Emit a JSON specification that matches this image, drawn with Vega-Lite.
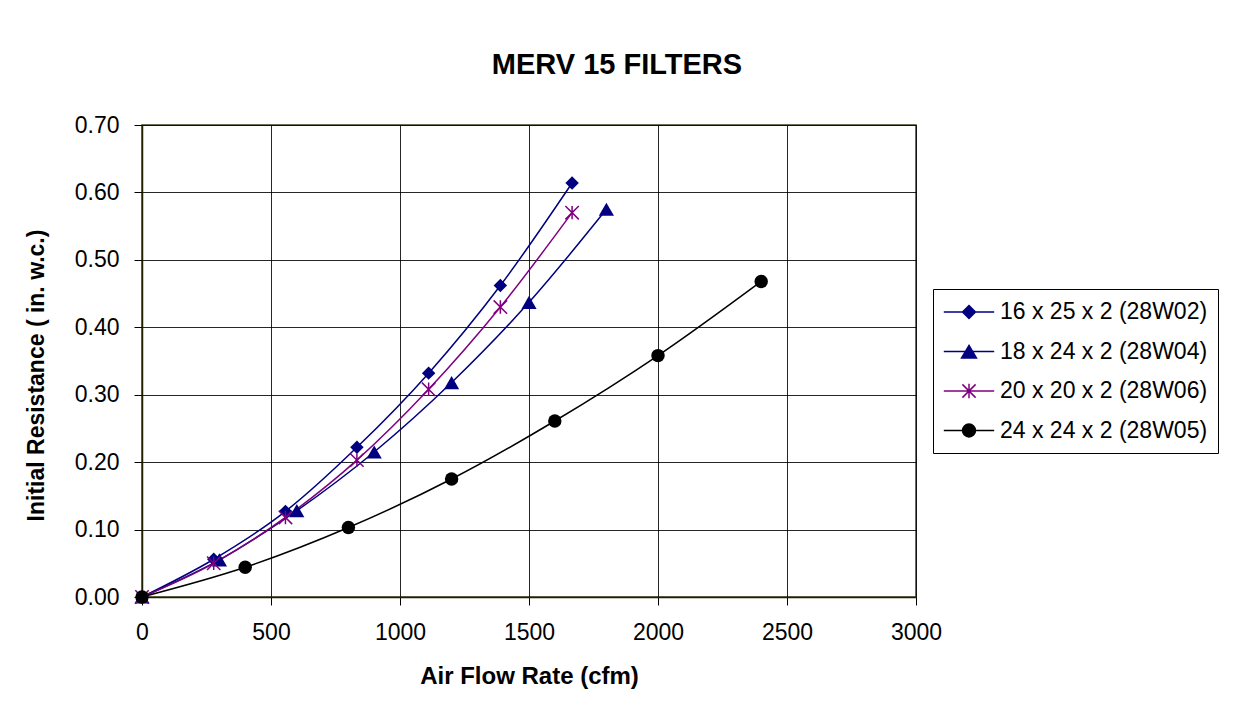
{
  "$schema": "https://vega.github.io/schema/vega-lite/v6.json",
  "width": 774,
  "height": 472,
  "autosize": {"type": "none"},
  "padding": {"left": 142, "top": 125, "right": 319, "bottom": 124},
  "background": "white",
  "title": {
    "text": "MERV 15 FILTERS",
    "fontSize": 29,
    "font": "Liberation Sans",
    "fontWeight": "bold",
    "color": "black",
    "anchor": "middle",
    "dx": 88,
    "baseline": "alphabetic",
    "offset": 11
  },
  "data": {
    "values": [
      {"series": "16 x 25 x 2 (28W02)", "cfm": 0, "resistance": 0.0},
      {"series": "16 x 25 x 2 (28W02)", "cfm": 278, "resistance": 0.056},
      {"series": "16 x 25 x 2 (28W02)", "cfm": 556, "resistance": 0.127},
      {"series": "16 x 25 x 2 (28W02)", "cfm": 833, "resistance": 0.222},
      {"series": "16 x 25 x 2 (28W02)", "cfm": 1111, "resistance": 0.332},
      {"series": "16 x 25 x 2 (28W02)", "cfm": 1389, "resistance": 0.462},
      {"series": "16 x 25 x 2 (28W02)", "cfm": 1667, "resistance": 0.614},
      {"series": "18 x 24 x 2 (28W04)", "cfm": 0, "resistance": 0.0},
      {"series": "18 x 24 x 2 (28W04)", "cfm": 300, "resistance": 0.055},
      {"series": "18 x 24 x 2 (28W04)", "cfm": 600, "resistance": 0.128},
      {"series": "18 x 24 x 2 (28W04)", "cfm": 900, "resistance": 0.215},
      {"series": "18 x 24 x 2 (28W04)", "cfm": 1200, "resistance": 0.318},
      {"series": "18 x 24 x 2 (28W04)", "cfm": 1500, "resistance": 0.437},
      {"series": "18 x 24 x 2 (28W04)", "cfm": 1800, "resistance": 0.575},
      {"series": "20 x 20 x 2 (28W06)", "cfm": 0, "resistance": 0.0},
      {"series": "20 x 20 x 2 (28W06)", "cfm": 278, "resistance": 0.05},
      {"series": "20 x 20 x 2 (28W06)", "cfm": 556, "resistance": 0.118},
      {"series": "20 x 20 x 2 (28W06)", "cfm": 833, "resistance": 0.203},
      {"series": "20 x 20 x 2 (28W06)", "cfm": 1111, "resistance": 0.308},
      {"series": "20 x 20 x 2 (28W06)", "cfm": 1389, "resistance": 0.43},
      {"series": "20 x 20 x 2 (28W06)", "cfm": 1667, "resistance": 0.57},
      {"series": "24 x 24 x 2 (28W05)", "cfm": 0, "resistance": 0.0},
      {"series": "24 x 24 x 2 (28W05)", "cfm": 400, "resistance": 0.044},
      {"series": "24 x 24 x 2 (28W05)", "cfm": 800, "resistance": 0.103},
      {"series": "24 x 24 x 2 (28W05)", "cfm": 1200, "resistance": 0.175},
      {"series": "24 x 24 x 2 (28W05)", "cfm": 1600, "resistance": 0.261},
      {"series": "24 x 24 x 2 (28W05)", "cfm": 2000, "resistance": 0.358},
      {"series": "24 x 24 x 2 (28W05)", "cfm": 2400, "resistance": 0.468}
    ]
  },
  "encoding": {
    "x": {
      "field": "cfm",
      "type": "quantitative",
      "scale": {"domain": [0, 3000], "nice": false, "zero": true},
      "axis": {
        "title": "Air Flow Rate (cfm)",
        "values": [0, 500, 1000, 1500, 2000, 2500, 3000],
        "format": "d",
        "titleFontSize": 24,
        "titlePadding": 20,
        "labelPadding": 16,
        "tickSize": 8
      }
    },
    "y": {
      "field": "resistance",
      "type": "quantitative",
      "scale": {"domain": [0, 0.7], "nice": false},
      "axis": {
        "title": "Initial Resistance ( in. w.c.)",
        "values": [0, 0.1, 0.2, 0.3, 0.4, 0.5, 0.6, 0.7],
        "format": ".2f",
        "titleFontSize": 23,
        "titlePadding": 26,
        "titleY": 250,
        "labelPadding": 15,
        "tickSize": 8
      }
    },
    "color": {
      "field": "series",
      "type": "nominal",
      "scale": {
        "domain": ["16 x 25 x 2 (28W02)", "18 x 24 x 2 (28W04)", "20 x 20 x 2 (28W06)", "24 x 24 x 2 (28W05)"],
        "range": ["#000080", "#000080", "#800080", "#000000"]
      },
      "legend": {
        "title": null,
        "orient": "none",
        "legendX": 791,
        "legendY": 164,
        "padding": 10,
        "strokeColor": "#000000",
        "fillColor": "#ffffff",
        "labelFontSize": 23,
        "labelFont": "Liberation Sans",
        "labelColor": "#000000",
        "labelLimit": 400,
        "symbolSize": 576,
        "symbolOffset": 13,
        "labelOffset": 18,
        "rowPadding": 14.5,
        "symbolStrokeWidth": 1.5,
        "symbolOpacity": 1
      }
    }
  },
  "layer": [
    {
      "mark": {"type": "line", "interpolate": "monotone", "strokeWidth": 1.5}
    },
    {
      "transform": [{"filter": {"field": "series", "equal": "16 x 25 x 2 (28W02)"}}],
      "mark": {"type": "point", "shape": "diamond", "filled": true, "size": 180, "opacity": 1}
    },
    {
      "transform": [{"filter": {"field": "series", "equal": "18 x 24 x 2 (28W04)"}}],
      "mark": {"type": "point", "shape": "triangle-up", "filled": true, "size": 230, "opacity": 1}
    },
    {
      "transform": [{"filter": {"field": "series", "equal": "20 x 20 x 2 (28W06)"}}],
      "mark": {"type": "point", "shape": "M0,-1L0,1M-1,-1L1,1M-1,1L1,-1", "filled": false, "size": 180, "strokeWidth": 1.5, "opacity": 1}
    },
    {
      "transform": [{"filter": {"field": "series", "equal": "24 x 24 x 2 (28W05)"}}],
      "mark": {"type": "point", "shape": "circle", "filled": true, "size": 180, "opacity": 1}
    },
    {
      "mark": {"type": "point", "filled": true, "opacity": 0},
      "encoding": {
        "shape": {
          "field": "series",
          "type": "nominal",
          "scale": {
            "domain": ["16 x 25 x 2 (28W02)", "18 x 24 x 2 (28W04)", "20 x 20 x 2 (28W06)", "24 x 24 x 2 (28W05)"],
            "range": [
              "M-2.1,0L2.1,0M0,-0.54L0.54,0L0,0.54L-0.54,0Z",
              "M-2.1,0L2.1,0M0,-0.5L0.62,0.55L-0.62,0.55Z",
              "M-2.1,0L2.1,0M0,-0.6L0,0.6M-0.55,-0.55L0.55,0.55M-0.55,0.55L0.55,-0.55",
              "M-2.1,0L2.1,0M-0.54,0A0.54,0.54,0,1,0,0.54,0A0.54,0.54,0,1,0,-0.54,0Z"
            ]
          },
          "legend": {
            "title": null,
            "orient": "none",
            "legendX": 791,
            "legendY": 164,
            "padding": 10,
            "strokeColor": "#000000",
            "fillColor": "#ffffff",
            "labelFontSize": 23,
            "labelFont": "Liberation Sans",
            "labelColor": "#000000",
            "labelLimit": 400,
            "symbolSize": 576,
            "symbolOffset": 13,
            "labelOffset": 18,
            "rowPadding": 14.5,
            "symbolStrokeWidth": 1.5,
            "symbolOpacity": 1
          }
        }
      }
    }
  ],
  "config": {
    "font": "Liberation Sans",
    "view": {"stroke": "#404020", "strokeWidth": 1.5},
    "axis": {
      "grid": true,
      "labelFlush": false,
      "gridColor": "#000000",
      "gridOpacity": 0.85,
      "gridWidth": 1,
      "domainColor": "#202000",
      "domainWidth": 1.5,
      "tickColor": "#000000",
      "labelColor": "#000000",
      "labelFont": "Liberation Sans",
      "labelFontSize": 23,
      "titleFont": "Liberation Sans",
      "titleFontWeight": "bold",
      "titleColor": "#000000"
    }
  }
}
